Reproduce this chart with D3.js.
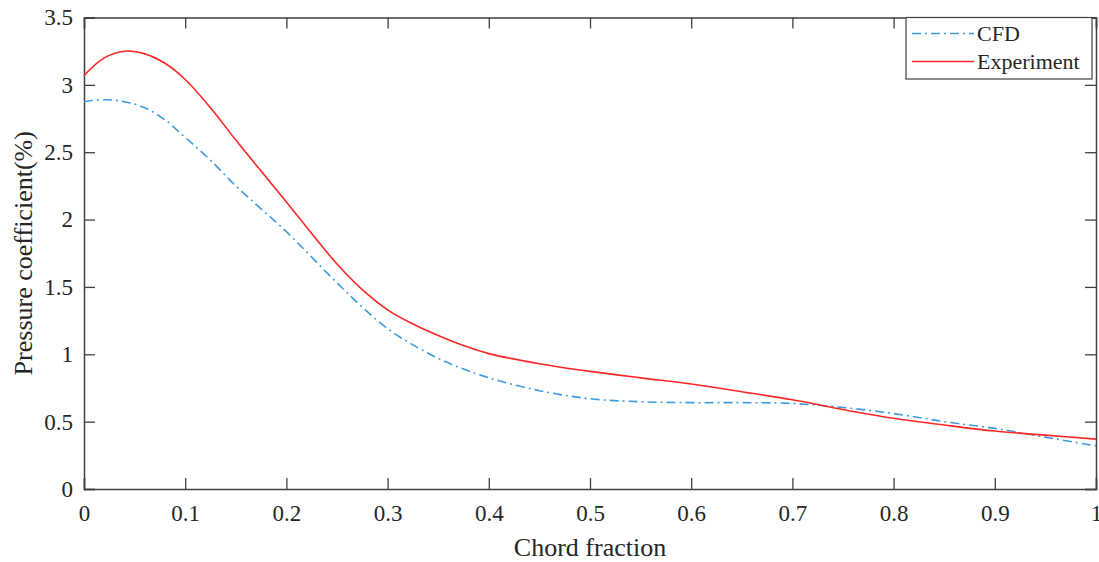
<!DOCTYPE html>
<html>
<head>
<meta charset="utf-8">
<script src="https://cdn.jsdelivr.net/npm/d3@7"></script>
<style>
  body { margin: 0; background: #fff; }
  text { font-family: "Liberation Serif", "Times New Roman", serif; fill: #262626; }
</style>
</head>
<body>
<div id="viz"></div>
<script>
const chordFraction = [0, 0.02, 0.04, 0.06, 0.08, 0.1, 0.125, 0.15, 0.175, 0.2, 0.25, 0.275, 0.3, 0.325, 0.35, 0.375, 0.4, 0.45, 0.5, 0.55, 0.6, 0.65, 0.7, 0.75, 0.8, 0.85, 0.9, 0.95, 1];
const cfdValues = [2.875, 2.89, 2.875, 2.83, 2.74, 2.61, 2.44, 2.25, 2.08, 1.91, 1.53, 1.35, 1.19, 1.07, 0.97, 0.89, 0.825, 0.73, 0.67, 0.648, 0.641, 0.641, 0.635, 0.605, 0.56, 0.50, 0.45, 0.385, 0.32];
const experimentValues = [3.07, 3.20, 3.25, 3.23, 3.16, 3.04, 2.83, 2.59, 2.36, 2.13, 1.67, 1.48, 1.33, 1.225, 1.14, 1.065, 1.005, 0.93, 0.873, 0.825, 0.78, 0.722, 0.662, 0.59, 0.525, 0.475, 0.43, 0.40, 0.37];
const xTicks = [0, 0.1, 0.2, 0.3, 0.4, 0.5, 0.6, 0.7, 0.8, 0.9, 1];
const yTicks = [0, 0.5, 1, 1.5, 2, 2.5, 3, 3.5];
const seriesNames = ['CFD', 'Experiment'];

const width = 1099;
const height = 562;
const margin = {top: 17.5, right: 3, bottom: 73, left: 84};
const tickLen = 11;
const axisColor = '#404040';

const x = d3.scaleLinear().domain([0, 1]).range([margin.left, width - margin.right]);
const y = d3.scaleLinear().domain([0, 3.5]).range([height - margin.bottom, margin.top]);

const svg = d3.select('#viz')
	.append('svg')
	.attr('width', width)
	.attr('height', height)
	.attr('viewBox', [0, 0, width, height]);

const fmt = d => d3.format('')(d);

// axes with inward ticks, box style
const axisBottomG = svg.append('g')
	.attr('transform', `translate(0, ${y(0)})`)
	.call(d3.axisBottom(x).tickValues(xTicks).tickFormat(fmt).tickSize(-tickLen).tickPadding(24));
const axisLeftG = svg.append('g')
	.attr('transform', `translate(${x(0)}, 0)`)
	.call(d3.axisLeft(y).tickValues(yTicks).tickFormat(fmt).tickSize(-tickLen).tickPadding(11));
const axisTopG = svg.append('g')
	.attr('transform', `translate(0, ${y(3.5)})`)
	.call(d3.axisTop(x).tickValues(xTicks).tickFormat('').tickSize(-tickLen));
const axisRightG = svg.append('g')
	.attr('transform', `translate(${x(1)}, 0)`)
	.call(d3.axisRight(y).tickValues(yTicks).tickFormat('').tickSize(-tickLen));

[axisBottomG, axisLeftG, axisTopG, axisRightG].forEach(g => {
	g.select('.domain').attr('stroke', axisColor).attr('stroke-width', 1.5);
	g.selectAll('.tick line').attr('stroke', axisColor).attr('stroke-width', 1.3);
	g.selectAll('.tick text')
		.style('font-family', '"Liberation Serif", serif')
		.attr('font-size', 23)
		.attr('fill', '#262626');
});
axisBottomG.selectAll('.tick text').attr('dy', '0.35em');

const line = d3.line().curve(d3.curveCatmullRom.alpha(0.5));

svg.append('path')
	.attr('d', line(chordFraction.map((c, i) => [x(c), y(cfdValues[i])])))
	.attr('fill', 'none')
	.attr('stroke', '#3f9be0')
	.attr('stroke-width', 1.6)
	.attr('stroke-dasharray', '9,4,2,4');

svg.append('path')
	.attr('d', line(chordFraction.map((c, i) => [x(c), y(experimentValues[i])])))
	.attr('fill', 'none')
	.attr('stroke', '#ff2626')
	.attr('stroke-width', 1.6);

// axis labels
svg.append('text')
	.attr('x', (x(0) + x(1)) / 2)
	.attr('y', 556)
	.attr('text-anchor', 'middle')
	.attr('font-size', 26)
	.text('Chord fraction');

svg.append('text')
	.attr('transform', `translate(32, ${(y(0) + y(3.5)) / 2}) rotate(-90)`)
	.attr('text-anchor', 'middle')
	.attr('font-size', 26)
	.text('Pressure coefficient(%)');

// legend
const legend = svg.append('g').attr('transform', 'translate(906, 17.5)');
legend.append('rect')
	.attr('width', 186)
	.attr('height', 61.5)
	.attr('fill', '#fff')
	.attr('stroke', axisColor)
	.attr('stroke-width', 1.2);

const legendStyles = [
	{color: '#3f9be0', dash: '9,4,2,4'},
	{color: '#ff2626', dash: null}
];
seriesNames.forEach((name, i) => {
	const ly = 16 + i * 28;
	legend.append('line')
		.attr('x1', 6).attr('x2', 68)
		.attr('y1', ly).attr('y2', ly)
		.attr('stroke', legendStyles[i].color)
		.attr('stroke-width', 1.6)
		.attr('stroke-dasharray', legendStyles[i].dash);
	legend.append('text')
		.attr('x', 71)
		.attr('y', ly + 7)
		.attr('font-size', 22)
		.text(name);
});
</script>
</body>
</html>
